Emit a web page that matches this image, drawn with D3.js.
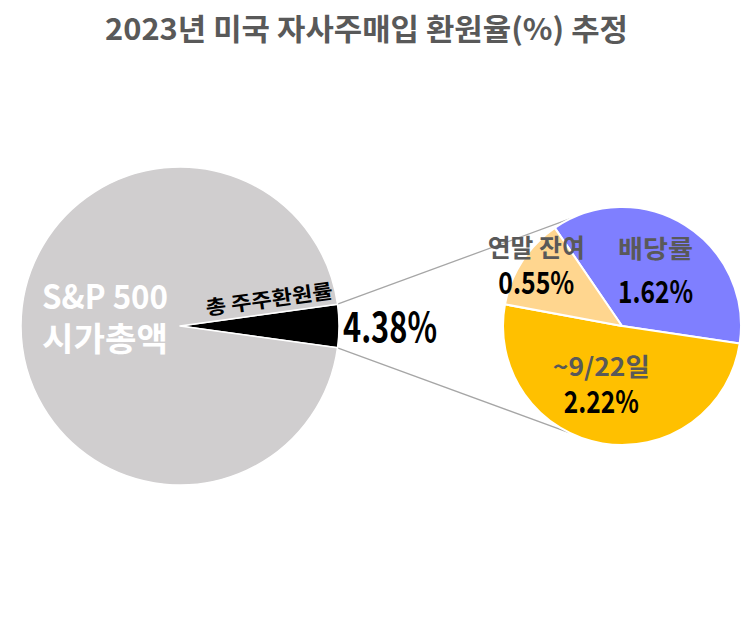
<!DOCTYPE html>
<html>
<head>
<meta charset="utf-8">
<script src="https://cdn.jsdelivr.net/npm/d3@7"></script>
<style>
  html, body { margin: 0; padding: 0; background: #ffffff; }
  svg { display: block; }
  text { font-family: 'Noto Sans CJK KR', 'Noto Sans', sans-serif; }
</style>
</head>
<body>
<div id="chart"></div>
<script>
// ---------------- data ----------------
const title = "2023년 미국 자사주매입 환원율(%) 추정";
const bigCategories = ["총 주주환원률", "S&P 500 시가총액"];
const bigValues = [4.38, 95.62];
const bigValueLabel = "4.38%";
const smallCategories = ["배당률", "~9/22일", "연말 잔여"];
const smallValues = [1.62, 2.22, 0.55];
const smallValueLabels = ["1.62%", "2.22%", "0.55%"];

// ---------------- layout ----------------
const W = 743, H = 624;
const deg = Math.PI / 180;
const big = { cx: 180, cy: 326, r: 159 };
const small = { cx: 622, cy: 326, r: 119, start: -34.4 * deg };
const bigColors = ["#000000", "#D0CECF"];
const smallColors = ["#7F7FFF", "#FFC000", "#FFD68F"];

const svg = d3.select("#chart").append("svg")
  .attr("width", W).attr("height", H);

// title
svg.append("text")
  .attr("x", 366.5).attr("y", 40)
  .attr("text-anchor", "middle")
  .attr("font-size", 30).attr("font-weight", 700)
  .attr("fill", "#595959")
  .attr("textLength", 523).attr("lengthAdjust", "spacingAndGlyphs")
  .text(title);

// ---------------- big pie ----------------
const bigTotal = d3.sum(bigValues);
const bigStart = Math.PI / 2 - (bigValues[0] / bigTotal) * Math.PI;
const bigPie = d3.pie().sort(null).startAngle(bigStart).endAngle(bigStart + 2 * Math.PI);
const bigArcs = bigPie(bigValues);
const bigArc = d3.arc().innerRadius(0).outerRadius(big.r);

// point on a circle using d3 arc angle convention (0 = 12 o'clock, clockwise)
const pt = (c, r, a) => [c.cx + r * Math.sin(a), c.cy - r * Math.cos(a)];

// connector lines (drawn first)
const black = bigArcs[0];
const upperCorner = pt(big, big.r, black.startAngle);
const lowerCorner = pt(big, big.r, black.endAngle);
const upperEnd = pt(small, small.r, -25.3 * deg);
const lowerEnd = pt(small, small.r, 206.4 * deg);
svg.append("g").selectAll("line")
  .data([[upperCorner, upperEnd], [lowerCorner, lowerEnd]])
  .join("line")
  .attr("x1", d => d[0][0]).attr("y1", d => d[0][1])
  .attr("x2", d => d[1][0]).attr("y2", d => d[1][1])
  .attr("stroke", "#A6A6A6").attr("stroke-width", 1.3);

const gBig = svg.append("g").attr("transform", `translate(${big.cx},${big.cy})`);
gBig.selectAll("path")
  .data(bigArcs)
  .join("path")
  .attr("d", bigArc)
  .attr("fill", (d, i) => bigColors[i])
  .attr("stroke", "#ffffff").attr("stroke-width", 1.5)
  .attr("stroke-linejoin", "round");

// S&P 500 label
const spLines = ["S&P 500", "시가총액"];
gBig.append("g").selectAll("text")
  .data(spLines)
  .join("text")
  .attr("x", -75)
  .attr("y", (d, i) => i === 0 ? -17 : 25)
  .attr("text-anchor", "middle")
  .attr("font-size", 33).attr("font-weight", 700)
  .attr("fill", "#ffffff")
  .attr("textLength", 126).attr("lengthAdjust", "spacingAndGlyphs")
  .text(d => d);

// rotated label along the upper edge of the black slice
const rotDeg = black.startAngle / deg - 90;
gBig.append("text")
  .attr("transform", `rotate(${rotDeg}) translate(92,-7)`)
  .attr("text-anchor", "middle")
  .attr("font-size", 20).attr("font-weight", 700)
  .attr("fill", "#000000")
  .attr("textLength", 128).attr("lengthAdjust", "spacingAndGlyphs")
  .text(bigCategories[0]);

// value label 4.38%
svg.append("text")
  .attr("x", big.cx + big.r + 4).attr("y", big.cy + 16)
  .attr("font-size", 41).attr("font-weight", 700)
  .attr("fill", "#000000")
  .attr("textLength", 94).attr("lengthAdjust", "spacingAndGlyphs")
  .text(bigValueLabel);

// ---------------- small pie ----------------
const smallPie = d3.pie().sort(null).startAngle(small.start).endAngle(small.start + 2 * Math.PI);
const smallArcs = smallPie(smallValues);
const smallArc = d3.arc().innerRadius(0).outerRadius(small.r);
const gSmall = svg.append("g").attr("transform", `translate(${small.cx},${small.cy})`);
gSmall.selectAll("path")
  .data(smallArcs)
  .join("path")
  .attr("d", smallArc)
  .attr("fill", (d, i) => smallColors[i])
  .attr("stroke", "#ffffff").attr("stroke-width", 2)
  .attr("stroke-linejoin", "round");

// label placement per slice (radius, angle shift, name width, value width, name/value offsets)
const labelSpec = [
  { r: 65, da: -0.9, nw: 75, vw: 75, ny: -12.5, vy: 32.5 },
  { r: 60.4, da: 10.6, nw: 97, vw: 75, ny: -7, vy: 30 },
  { r: 105, da: 2.2, nw: 97, vw: 76, ny: -8.5, vy: 28.5 }
];
const labels = gSmall.append("g").selectAll("g")
  .data(smallArcs)
  .join("g")
  .attr("transform", (d, i) => {
    const s = labelSpec[i];
    const a = (d.startAngle + d.endAngle) / 2 + s.da * deg;
    return `translate(${s.r * Math.sin(a)},${-s.r * Math.cos(a)})`;
  });
labels.append("text")
  .attr("y", (d, i) => labelSpec[i].ny)
  .attr("text-anchor", "middle")
  .attr("font-size", 25).attr("font-weight", 700)
  .attr("fill", "#595959")
  .attr("textLength", (d, i) => labelSpec[i].nw).attr("lengthAdjust", "spacingAndGlyphs")
  .text((d, i) => smallCategories[i]);
labels.append("text")
  .attr("y", (d, i) => labelSpec[i].vy)
  .attr("text-anchor", "middle")
  .attr("font-size", 31).attr("font-weight", 700)
  .attr("fill", "#000000")
  .attr("textLength", (d, i) => labelSpec[i].vw).attr("lengthAdjust", "spacingAndGlyphs")
  .text((d, i) => smallValueLabels[i]);
</script>
</body>
</html>
